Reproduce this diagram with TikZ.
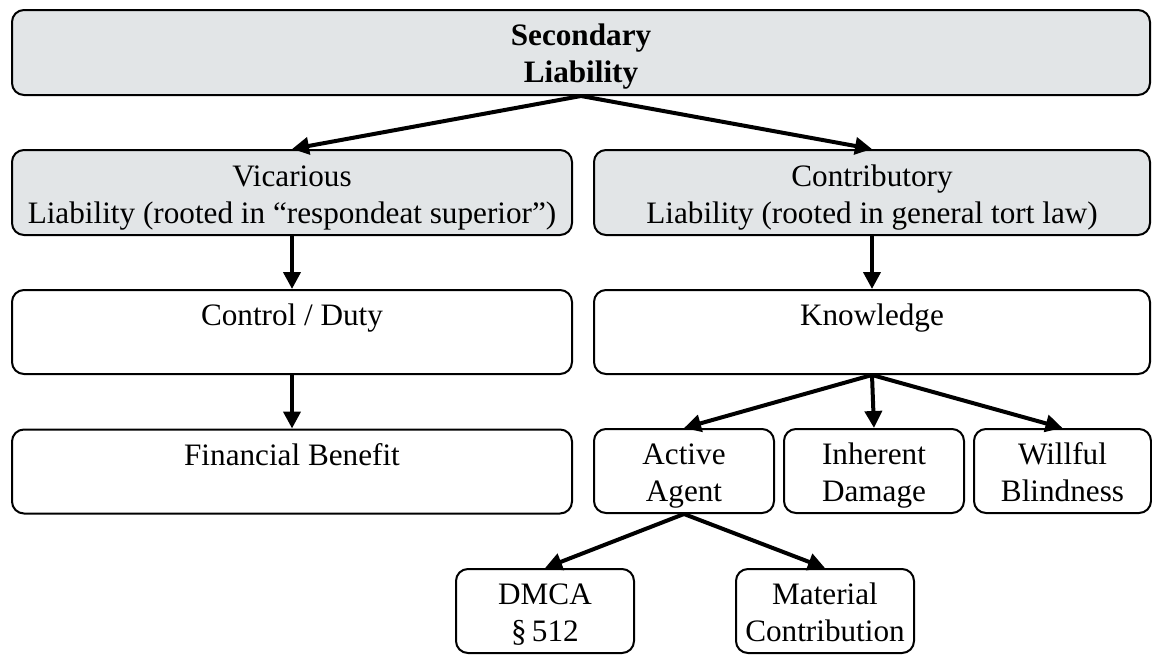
\documentclass[tikz,border=0pt]{standalone}
\usepackage{fontspec}
\setmainfont{Liberation Serif}
\usepackage{tikz}
\usetikzlibrary{arrows.meta}
\definecolor{boxgray}{RGB}{226,229,231}
% two lines, same baselines in every box
\newcommand{\twoline}[2]{\rule{0pt}{17.5pt}#1\\#2\rule[-5.5pt]{0pt}{5.5pt}}

\begin{document}
\begin{tikzpicture}[x=0.5pt,y=-0.5pt,
    box/.style={draw=black,line width=1pt,rounded corners=6pt,align=center,
        font=\fontsize{15.6pt}{18.5pt}\selectfont,inner sep=0pt,minimum height=42pt},
    head/.style={box,fill=boxgray},
    link/.style={line width=2pt,-{Triangle[length=8.5pt,width=8.5pt]}}]
    \useasboundingbox (0,0) rectangle (1152,664);

    % top
    \node[head,minimum width=569pt,minimum height=42.5pt,font=\fontsize{15.6pt}{18.5pt}\selectfont\bfseries] (sec) at (581,52.5) {\twoline{Secondary}{Liability}};

    % two kinds
    \node[head,minimum width=280pt,minimum height=42.5pt] (vic) at (292,192.5) {\twoline{Vicarious}{Liability (rooted in ``respondeat superior'')}};
    \node[head,minimum width=278pt,minimum height=42.5pt] (con) at (872,192.5) {\twoline{Contributory}{Liability (rooted in general tort law)}};

    % left branch
    \node[box,minimum width=280pt] (ctl) at (292,332) {\twoline{Control / Duty}{}};
    \node[box,minimum width=280pt] (fin) at (292,471.5) {\twoline{Financial Benefit}{}};

    % right branch
    \node[box,minimum width=278pt] (kno) at (872,332) {\twoline{Knowledge}{}};
    \node[box,minimum width=90pt] (act) at (684,471) {\twoline{Active}{Agent}};
    \node[box,minimum width=90pt] (inh) at (874,471) {\twoline{Inherent}{Damage}};
    \node[box,minimum width=88.5pt] (wil) at (1062.5,471) {\twoline{Willful}{Blindness}};
    \node[box,minimum width=89pt] (dmc) at (545,611) {\twoline{DMCA}{\S\,512}};
    \node[box,minimum width=89pt] (mat) at (825,611) {\twoline{Material}{Contribution}};

    % arrows
    \draw[link] (sec.south) -- (vic.north);
    \draw[link] (sec.south) -- (con.north);
    \draw[link] (vic.south) -- (ctl.north);
    \draw[link] (ctl.south) -- (fin.north);
    \draw[link] (con.south) -- (kno.north);
    \draw[link] (kno.south) -- (act.north);
    \draw[link] (kno.south) -- (inh.north);
    \draw[link] (kno.south) -- (wil.north);
    \draw[link] (act.south) -- (dmc.north);
    \draw[link] (act.south) -- (mat.north);
\end{tikzpicture}
\end{document}
